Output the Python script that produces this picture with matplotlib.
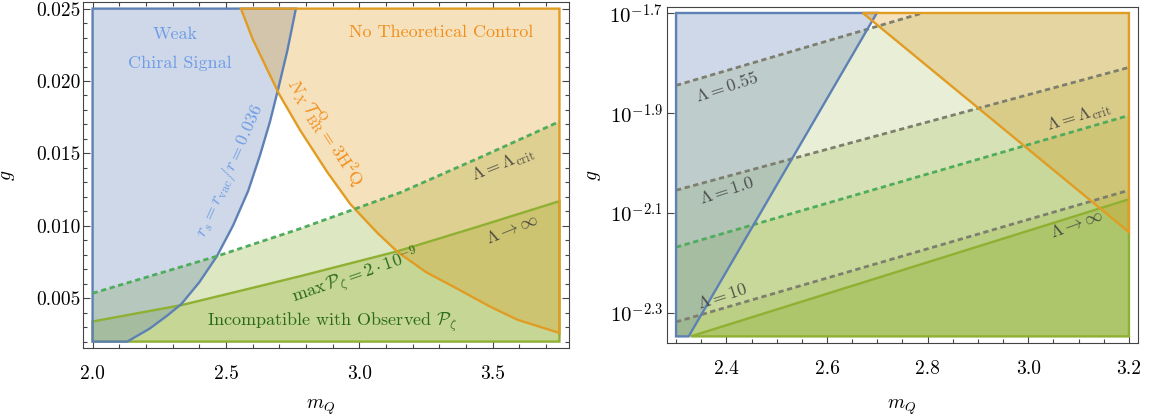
import matplotlib
matplotlib.use('Agg')
import matplotlib.pyplot as plt
from matplotlib.colors import to_rgba
from matplotlib.ticker import MultipleLocator, FixedLocator, FixedFormatter, NullLocator, FormatStrFormatter

plt.rcParams['font.family'] = 'cmr10'
plt.rcParams['mathtext.fontset'] = 'cm'
plt.rcParams['axes.formatter.use_mathtext'] = True
plt.rcParams['lines.scale_dashes'] = False

# ---- left panel (linear g) ----
m_lo, m_hi = 2.0, 3.75
g_lo, g_hi = 0.002, 0.025

# r_s = r_vac / r = 0.036
blue_m = [2.13, 2.214, 2.28, 2.333, 2.40, 2.466, 2.526, 2.583, 2.628, 2.665, 2.695, 2.73, 2.762]
blue_g = [0.0020, 0.0029, 0.0038, 0.0046, 0.0061, 0.0079, 0.0100, 0.0124, 0.0149, 0.0172, 0.0194, 0.0221, 0.0250]

# N_X T_BR = 3 H^2 Q
orange_m = [2.556, 2.60, 2.639, 2.699, 2.778, 2.880, 2.966, 3.068, 3.143, 3.25, 3.342, 3.492, 3.594, 3.75]
orange_g = [0.0250, 0.0229, 0.0214, 0.0191, 0.0166, 0.0137, 0.0115, 0.0095, 0.0082, 0.0068, 0.0059, 0.0044, 0.0035, 0.0026]

# Lambda = Lambda_crit (dashed)
crit_m = [2.0, 2.466, 2.778, 3.154, 3.45, 3.75]
crit_g = [0.00534, 0.0079, 0.0098, 0.0123, 0.0147, 0.0172]

# max P_zeta = 2e-9  (Lambda -> inf)
maxp_m = [2.0, 2.333, 2.59, 2.778, 3.143, 3.455, 3.75]
maxp_g = [0.00339, 0.00452, 0.00567, 0.00652, 0.00824, 0.0100, 0.0117]

# ---- right panel (log g) ----
r_m_lo, r_m_hi = 2.3, 3.2
r_g_lo, r_g_hi = 0.0045, 0.02

r_blue_m = [2.325, 2.699]
r_blue_g = [0.0045, 0.0200]
r_orange_m = [2.671, 3.2]
r_orange_g = [0.0200, 0.00728]
lam055_m = [2.3, 2.79]
lam055_g = [0.01432, 0.0200]
lam1_m = [2.3, 3.2]
lam1_g = [0.00883, 0.01556]
lamcrit_m = [2.3, 3.2]
lamcrit_g = [0.00679, 0.01247]
lam10_m = [2.3, 3.2]
lam10_g = [0.00481, 0.00883]
laminf_m = [2.329, 3.2]
laminf_g = [0.0045, 0.00847]

r_yticks = [-1.7, -1.9, -2.1, -2.3]

BLUE = '#5E81B5'
ORANGE = '#E19C24'
GREEN = '#8FB032'
DGREEN = '#4fac5c'
GRAYD = '#7e7e6e'
T_BLUE = '#6f9ce6'
T_ORANGE = '#f28e1c'
T_GREEN = '#2b6a1c'
T_GRAY = '#3a3a3a'
FRAME = '#444444'


def region(ax, xs, ys, color, alpha=0.3, edge=True):
    # translucent fill first, outline drawn above all fills
    ax.fill(xs, ys, fc=to_rgba(color, alpha), ec='none', zorder=1)
    if edge:
        ax.fill(xs, ys, fill=False, ec=color, lw=1.7, zorder=3)


fig = plt.figure(figsize=(11.51, 4.19), dpi=100)
ax1 = fig.add_axes([0.0721, 0.1695, 0.4223, 0.8258])
ax2 = fig.add_axes([0.5795, 0.1814, 0.4092, 0.8019])

# left panel regions
region(ax1, crit_m + [m_hi, m_lo], crit_g + [g_lo, g_lo], GREEN, edge=False)
region(ax1, maxp_m + [m_hi, m_lo], maxp_g + [g_lo, g_lo], GREEN)
region(ax1, [m_lo] + blue_m + [m_lo], [g_lo] + blue_g + [g_hi], BLUE)
region(ax1, orange_m + [m_hi], orange_g + [g_hi], ORANGE)
ax1.plot(crit_m, crit_g, color=DGREEN, lw=2.0, dashes=[3.8, 2.6], zorder=4)

kw = dict(ha='center', va='center', rotation_mode='anchor', fontsize=13)
ax1.text(2.308, 0.02321, 'Weak', color=T_BLUE, **kw)
ax1.text(2.327, 0.02121, 'Chiral Signal', color=T_BLUE, **kw)
ax1.text(3.305, 0.02334, 'No Theoretical Control', color=T_ORANGE, **kw)
ax1.text(2.515, 0.01376, r'$r_s = r_{\rm vac}/r = 0.036$', color=T_BLUE, rotation=66, **kw)
ax1.text(2.872, 0.01645, r'$N_X\,\mathcal{T}^{\,\mathrm{Q}}_{\mathrm{BR}} = 3\mathrm{H}^2\mathrm{Q}$',
         color=T_ORANGE, rotation=-57, **kw)
ax1.text(3.538, 0.01424, r'$\Lambda = \Lambda_{\rm crit}$', color=T_GRAY, alpha=0.85, rotation=22, **kw)
ax1.text(3.575, 0.00976, r'$\Lambda \to \infty$', color=T_GRAY, alpha=0.85, rotation=22, **kw)
ax1.text(2.985, 0.00652, r'$\max\,\mathcal{P}_\zeta = 2\cdot 10^{-9}$', color=T_GREEN, rotation=19, **kw)
ax1.text(2.898, 0.00334, r'Incompatible with Observed $\mathcal{P}_\zeta$', color=T_GREEN, **kw)

ax1.set_xlim(1.964, 3.786)
ax1.set_ylim(0.00156, 0.02546)
ax1.xaxis.set_major_locator(MultipleLocator(0.5))
ax1.xaxis.set_minor_locator(MultipleLocator(0.1))
ax1.yaxis.set_major_locator(MultipleLocator(0.005))
ax1.yaxis.set_minor_locator(MultipleLocator(0.001))
ax1.xaxis.set_major_formatter(FormatStrFormatter('%.1f'))
ax1.yaxis.set_major_formatter(FormatStrFormatter('%.3f'))
ax1.tick_params(which='both', direction='in', top=True, right=True, labelsize=14, color=FRAME, width=0.8)
ax1.tick_params(which='major', length=5)
ax1.tick_params(which='minor', length=3)
ax1.tick_params(axis='y', pad=1.5)
ax1.tick_params(axis='x', pad=12)
ax1.set_xlabel(r'$m_Q$', fontsize=14)
ax1.set_ylabel(r'$g$', fontsize=14)
ax1.xaxis.set_label_coords(0.488, -0.142)
ax1.yaxis.set_label_coords(-0.136, 0.5)

# right panel regions
ax2.set_yscale('log')
region(ax2, lam055_m + [r_m_hi, r_m_hi, r_m_lo], lam055_g + [r_g_hi, r_g_lo, r_g_lo], GREEN, 0.2, edge=False)
for lm, lg in [(lam1_m, lam1_g), (lamcrit_m, lamcrit_g), (lam10_m, lam10_g)]:
    region(ax2, lm + [r_m_hi, r_m_lo], lg + [r_g_lo, r_g_lo], GREEN, 0.2, edge=False)
region(ax2, laminf_m + [r_m_hi], laminf_g + [r_g_lo], GREEN)
region(ax2, [r_m_lo] + r_blue_m + [r_m_lo], [r_g_lo] + r_blue_g + [r_g_hi], BLUE)
region(ax2, r_orange_m + [r_m_hi], r_orange_g + [r_g_hi], ORANGE)
for lm, lg in [(lam055_m, lam055_g), (lam1_m, lam1_g), (lam10_m, lam10_g)]:
    ax2.plot(lm, lg, color=GRAYD, lw=2.0, dashes=[3.8, 2.6], zorder=2)
ax2.plot(lamcrit_m, lamcrit_g, color=DGREEN, lw=2.0, dashes=[3.8, 2.6], zorder=2)

ax2.text(2.402, 10**-1.846, r'$\Lambda = 0.55$', color=T_GRAY, alpha=0.85, rotation=18, **kw)
ax2.text(2.402, 10**-2.054, r'$\Lambda = 1.0$', color=T_GRAY, alpha=0.85, rotation=18, **kw)
ax2.text(2.392, 10**-2.266, r'$\Lambda = 10$', color=T_GRAY, alpha=0.85, rotation=18, **kw)
ax2.text(3.101, 10**-1.908, r'$\Lambda = \Lambda_{\rm crit}$', color=T_GRAY, alpha=0.85, rotation=17, **kw)
ax2.text(3.097, 10**-2.122, r'$\Lambda \to \infty$', color=T_GRAY, alpha=0.85, rotation=20, **kw)

ax2.set_xlim(2.282, 3.218)
ax2.set_ylim(10**-2.36, 10**-1.687)
ax2.xaxis.set_major_locator(MultipleLocator(0.2))
ax2.xaxis.set_minor_locator(MultipleLocator(0.05))
ax2.xaxis.set_major_formatter(FormatStrFormatter('%.1f'))
ax2.yaxis.set_major_locator(FixedLocator([10**t for t in r_yticks]))
ax2.yaxis.set_major_formatter(FixedFormatter(['$10^{%.1f}$' % t for t in r_yticks]))
ax2.yaxis.set_minor_locator(NullLocator())
ax2.tick_params(which='both', direction='in', labelsize=14, color=FRAME, width=0.8)
ax2.tick_params(which='major', length=5)
ax2.tick_params(which='minor', length=3)
ax2.tick_params(axis='y', pad=3, labelsize=15)
ax2.tick_params(axis='x', pad=12)
ax2.set_xlabel(r'$m_Q$', fontsize=14)
ax2.set_ylabel(r'$g$', fontsize=14)
ax2.xaxis.set_label_coords(0.499, -0.161)
ax2.yaxis.set_label_coords(-0.136, 0.5)

for ax in (ax1, ax2):
    for sp in ax.spines.values():
        sp.set_color(FRAME)
        sp.set_linewidth(0.8)

fig.savefig('out.png', dpi=100)
